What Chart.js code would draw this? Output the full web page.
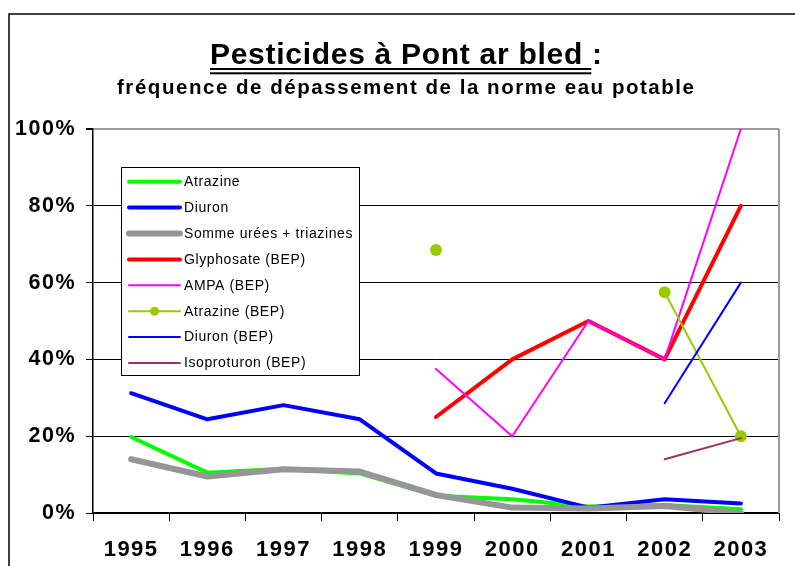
<!DOCTYPE html>
<html><head><meta charset="utf-8">
<script src="https://cdn.jsdelivr.net/npm/chart.js@4/dist/chart.umd.min.js"></script>
<style>html,body{margin:0;padding:0;background:#fff}canvas{display:block}</style>
</head><body>
<canvas id="c" width="795" height="566"></canvas>
<script>
// ---- data ----
const years = ['1995','1996','1997','1998','1999','2000','2001','2002','2003'];
const atrazine       = [19.8, 10.5, 11.5, 10.3, 4.5, 3.6, 1.7, 2.1, 1.0];
const diuron         = [31.2, 24.4, 28.1, 24.4, 10.3, 6.3, 1.4, 3.6, 2.5];
const sommeUreesTriazines = [14.0, 9.5, 11.4, 10.8, 4.7, 1.4, 1.2, 1.8, 0.0];
const glyphosateBEP  = [null, null, null, null, 25, 40, 50, 40, 80];
const ampaBEP        = [null, null, null, null, 37.5, 20, 50, 40, 100];
const atrazineBEP    = [null, null, null, null, 68.5, null, null, 57.5, 20];
const diuronBEP      = [null, null, null, null, null, null, null, 28.6, 60];
const isoproturonBEP = [null, null, null, null, null, null, null, 14.0, 19.5];
const yTicks = [0, 20, 40, 60, 80, 100];
const titleMain = 'Pesticides à Pont ar bled ';
const titleTail = ':';
const subtitleText = 'fréquence de dépassement de la norme eau potable';

const FONT = '"Liberation Sans", Arial, sans-serif';

function ds(label, data, color, width, extra) {
  return Object.assign({
    label, data, borderColor: color, backgroundColor: color,
    borderWidth: width, pointRadius: 0, pointHoverRadius: 0,
    tension: 0, spanGaps: false, borderCapStyle: 'round', borderJoinStyle: 'round'
  }, extra || {});
}
const datasets = [
  ds('Atrazine', atrazine, '#00ff00', 4),
  ds('Diuron', diuron, '#0000ff', 4),
  ds('Somme urées + triazines', sommeUreesTriazines, '#969696', 6),
  ds('Glyphosate (BEP)', glyphosateBEP, '#ff0000', 4),
  ds('AMPA (BEP)', ampaBEP, '#ff00ff', 2),
  ds('Atrazine (BEP)', atrazineBEP, '#99cc00', 2, {pointRadius: 6, pointBorderWidth: 0, pointBackgroundColor: '#99cc00'}),
  ds('Diuron (BEP)', diuronBEP, '#0000ff', 2),
  ds('Isoproturon (BEP)', isoproturonBEP, '#993366', 2)
];
// later series drawn on top (as in the original)
datasets.forEach((d, i) => d.order = datasets.length - i);

function fitText(ctx, text, font, x, y, targetW) {
  ctx.font = font;
  ctx.letterSpacing = '0px';
  const w = ctx.measureText(text).width;
  const ls = (targetW - w) / Math.max(1, text.length - 1);
  ctx.letterSpacing = ls + 'px';
  ctx.textAlign = 'left';
  ctx.textBaseline = 'alphabetic';
  ctx.fillText(text, x, y);
  return ls;
}

const decor = {
  id: 'decor',
  beforeDraw(chart) {
    const ctx = chart.ctx;
    ctx.save();
    ctx.fillStyle = '#fff';
    ctx.fillRect(0, 0, chart.width, chart.height);
    ctx.strokeStyle = '#000';
    ctx.lineWidth = 1.5;
    ctx.strokeRect(9, 14, 800, 600);
    ctx.restore();
    ctx.letterSpacing = '1.5px';
  },
  beforeDatasetsDraw(chart) {
    const ctx = chart.ctx, a = chart.chartArea;
    ctx.letterSpacing = '0px';
    ctx.save();
    ctx.strokeStyle = '#999';
    ctx.lineWidth = 2;
    ctx.beginPath();
    ctx.moveTo(a.right, a.top);
    ctx.lineTo(a.right, a.bottom);
    ctx.stroke();
    ctx.restore();
  },
  afterDatasetsDraw(chart) {
    const ctx = chart.ctx;
    ctx.save();
    // legend box
    const bx = 121, by = 167, bw = 238, bh = 208;
    ctx.fillStyle = '#fff';
    ctx.fillRect(bx, by, bw, bh);
    ctx.strokeStyle = '#000';
    ctx.lineWidth = 1;
    ctx.strokeRect(bx + 0.5, by + 0.5, bw, bh);
    chart.data.datasets.forEach((d, i) => {
      const y = 181.7 + i * 25.9;
      ctx.strokeStyle = d.borderColor;
      ctx.lineWidth = d.borderWidth;
      ctx.lineCap = 'round';
      ctx.beginPath();
      ctx.moveTo(129, y);
      ctx.lineTo(180, y);
      ctx.stroke();
      if (d.pointRadius) {
        ctx.fillStyle = d.borderColor;
        ctx.beginPath();
        ctx.arc(154.5, y, 4.5, 0, Math.PI * 2);
        ctx.fill();
      }
      ctx.fillStyle = '#000';
      ctx.font = '14px ' + FONT;
      ctx.letterSpacing = '0.6px';
      ctx.textAlign = 'left';
      ctx.textBaseline = 'middle';
      ctx.fillText(d.label, 184, y + 0.5);
    });
    ctx.restore();
  },
  afterDraw(chart) {
    const ctx = chart.ctx;
    ctx.save();
    ctx.fillStyle = '#000';
    // title
    const tFont = 'bold 30px ' + FONT;
    const full = titleMain + titleTail;
    const ls = fitText(ctx, full, tFont, 210, 64.3, 392);
    ctx.font = tFont;
    ctx.letterSpacing = ls + 'px';
    const uw = ctx.measureText(titleMain).width - ls;
    ctx.fillRect(210, 68, uw, 2);
    ctx.fillRect(210, 72.3, uw, 2);
    // subtitle
    fitText(ctx, subtitleText, 'bold 20.5px ' + FONT, 117, 94.3, 577);
    ctx.letterSpacing = '0px';
    ctx.restore();
  }
};

new Chart(document.getElementById('c'), {
  type: 'line',
  data: { labels: years, datasets },
  plugins: [decor],
  options: {
    responsive: false,
    devicePixelRatio: 1,
    animation: false,
    events: [],
    layout: { padding: { left: 0, right: 16, top: 129, bottom: 0 } },
    plugins: { legend: { display: false }, title: { display: false }, tooltip: { enabled: false } },
    scales: {
      x: {
        offset: true,
        afterFit(s) { s.height = 53; },
        grid: { offset: true, drawOnChartArea: false, drawTicks: true, tickLength: 8, color: '#000', lineWidth: 1 },
        border: { display: true, color: '#000', width: 1.5 },
        ticks: { color: '#000', font: { family: FONT, size: 22, weight: 'bold' }, padding: 16, maxRotation: 0, autoSkip: false }
      },
      y: {
        min: 0, max: 100,
        afterFit(s) { s.width = 93; },
        afterBuildTicks(s) { s.ticks = yTicks.map(v => ({ value: v })); },
        grid: {
          color: c => (c.tick && c.tick.value === 100) ? '#999' : '#000',
          lineWidth: c => (c.tick && c.tick.value === 100) ? 2 : 1,
          tickColor: '#000', tickLength: 7, drawTicks: true
        },
        border: { display: true, color: '#000', width: 1.5 },
        ticks: { color: '#000', font: { family: FONT, size: 21.5, weight: 'bold' }, padding: 10,
                 callback: v => v + '%' }
      }
    }
  }
});
</script>
</body></html>
